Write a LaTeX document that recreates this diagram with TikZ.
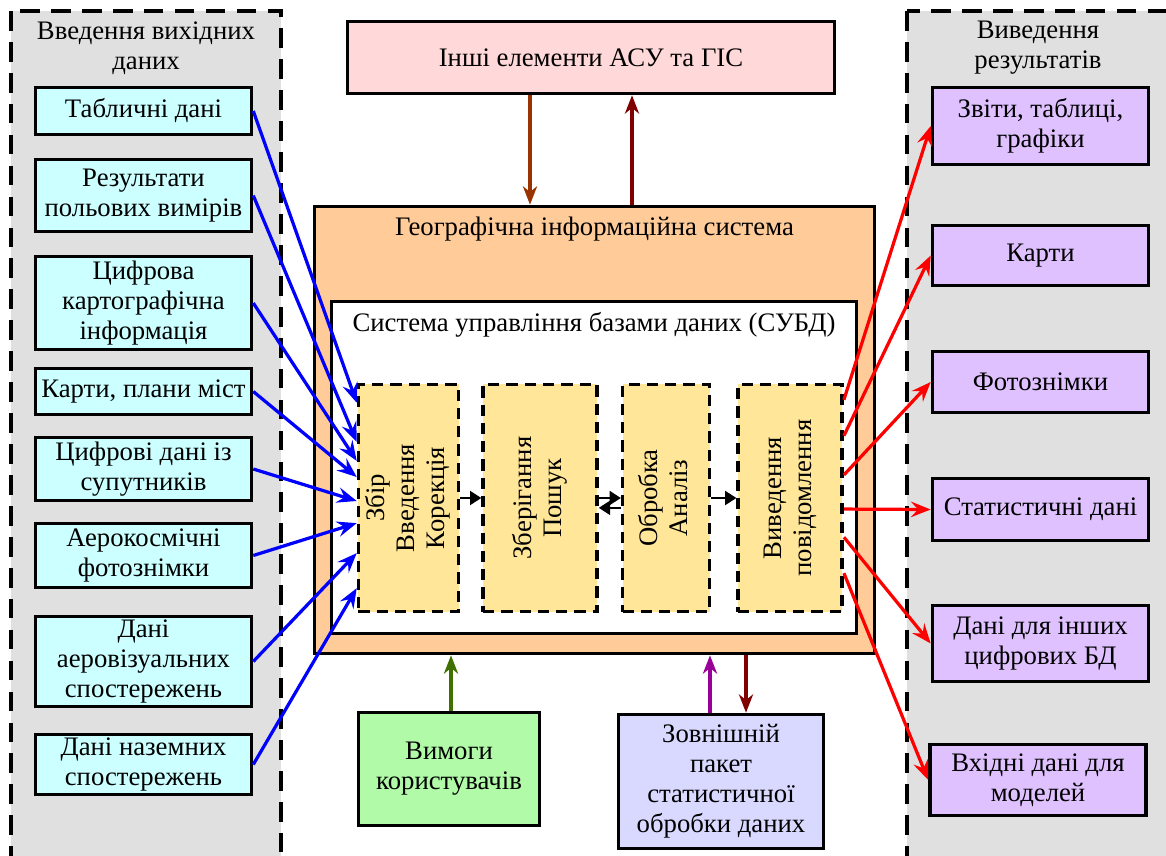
\documentclass[tikz,border=0pt]{standalone}
\usepackage{fontspec}
\setmainfont{Liberation Serif}
\usepackage{graphicx}
\usetikzlibrary{positioning, calc, arrows.meta}

\definecolor{panelgray}{RGB}{224,224,224}
\definecolor{incyan}{RGB}{204,255,255}
\definecolor{outviolet}{RGB}{223,193,255}
\definecolor{toppink}{RGB}{255,217,217}
\definecolor{gisorange}{RGB}{255,204,153}
\definecolor{stageyellow}{RGB}{255,230,153}
\definecolor{reqgreen}{RGB}{176,250,168}
\definecolor{pkglav}{RGB}{217,217,255}
\definecolor{arrbrown}{RGB}{153,51,0}
\definecolor{arrdarkred}{RGB}{128,0,0}
\definecolor{arrgreen}{RGB}{64,112,0}
\definecolor{arrpurple}{RGB}{153,0,153}

\begin{document}
\begin{tikzpicture}[x=0.025cm, y=-0.025cm, font=\fontsize{19}{21.3}\selectfont]
    \tikzstyle{panel} = [draw, fill=panelgray, line width=2.8pt, dash pattern=on 14pt off 8pt];
    \tikzstyle{plainbox} = [draw, line width=2.5pt, align=center, inner sep=2pt];
    \tikzstyle{inbox} = [plainbox, fill=incyan, minimum width=5.4cm];
    \tikzstyle{outbox} = [plainbox, fill=outviolet, minimum width=5.4cm];
    \tikzstyle{stagebox} = [draw, fill=stageyellow, line width=2.5pt, dash pattern=on 8pt off 5pt, minimum height=5.675cm, inner sep=0pt];
    \tikzstyle{inarrow} = [draw=blue, line width=2.3pt, -{Stealth[length=14pt, width=11pt, inset=5pt]}];
    \tikzstyle{outarrow} = [draw=red, line width=2.3pt, -{Stealth[length=14pt, width=11pt, inset=5pt]}];
    \tikzstyle{vertarrow} = [line width=2.3pt, -{Stealth[length=13pt, width=10pt, inset=4pt]}];
    \tikzstyle{steparrow} = [line width=1.3pt, -{Triangle[length=8pt, width=10pt]}];

    \useasboundingbox (0,0) rectangle (1166,856);

    \draw[panel] (11,11) rectangle (281,900);
    \draw[panel] (907,11) rectangle (1200,900);

    \node[align=center] at (146,48) (inT) {Введення вихідних\\даних};
    \node[align=center] at (1038,48) (outT) {Виведення\\результатів};

    \node[inbox, minimum height=1.175cm] at (143.5,111) (L1) {Табличні дані};
    \node[inbox, minimum height=1.8cm] at (143.5,195.5) (L2) {Результати\\польових вимірів};
    \node[inbox, minimum height=2.325cm] at (143.5,303) (L3) {Цифрова\\картографічна\\інформація};
    \node[inbox, minimum height=1.15cm] at (143.5,391.5) (L4) {Карти, плани міст};
    \node[inbox, minimum height=1.575cm] at (143.5,469) (L5) {Цифрові дані із\\супутників};
    \node[inbox, minimum height=1.6cm] at (143.5,555.5) (L6) {Аерокосмічні\\фотознімки};
    \node[inbox, minimum height=2.25cm] at (143.5,661.5) (L7) {Дані\\аеровізуальних\\спостережень};
    \node[inbox, minimum height=1.5cm] at (143.5,764.5) (L8) {Дані наземних\\спостережень};

    \node[outbox, minimum height=1.925cm] at (1040.5,126) (R1) {Звіти, таблиці,\\графіки};
    \node[outbox, minimum height=1.5cm] at (1040.5,255.5) (R2) {Карти};
    \node[outbox, minimum height=1.525cm] at (1040.5,382) (R3) {Фотознімки};
    \node[outbox, minimum height=1.55cm] at (1040.5,509.5) (R4) {Статистичні дані};
    \node[outbox, minimum height=1.9cm] at (1040.5,643.5) (R5) {Дані для інших\\цифрових БД};
    \node[outbox, minimum height=1.775cm] at (1038,780) (R6) {Вхідні дані для\\моделей};

    \node[plainbox, fill=toppink, minimum width=12.175cm, minimum height=1.8cm] at (591,57.5) (T) {Інші елементи АСУ та ГІС};

    \node[plainbox, fill=gisorange, minimum width=14cm, minimum height=11.175cm,
        label={[anchor=north, yshift=-5pt]north:Географічна інформаційна система}] at (594.5,430) (G) {};
    \node[plainbox, fill=white, minimum width=13.125cm, minimum height=8.3cm,
        label={[anchor=north, yshift=-6pt, inner sep=3pt]north:Система управління базами даних (СУБД)}] at (594,467.5) (D) {};

    \node[stagebox, minimum width=2.5cm] at (408.5,498) (Y1) {\rotatebox{90}{\begin{tabular}{c}Збір\\Введення\\Корекція\end{tabular}}};
    \node[stagebox, minimum width=2.85cm, right=0.525cm of Y1] (Y2) {\rotatebox{90}{\begin{tabular}{c}Зберігання\\Пошук\end{tabular}}};
    \node[stagebox, minimum width=2.175cm, right=0.55cm of Y2] (Y3) {\rotatebox{90}{\begin{tabular}{c}Обробка\\Аналіз\end{tabular}}};
    \node[stagebox, minimum width=2.6cm, right=0.625cm of Y3] (Y4) {\rotatebox{90}{\begin{tabular}{c}Виведення\\повідомлення\end{tabular}}};

    \node[plainbox, fill=reqgreen, minimum width=4.525cm, minimum height=2.825cm] at (449,769) (U) {Вимоги\\користувачів};
    \node[plainbox, fill=pkglav, minimum width=5.125cm, minimum height=3.35cm] at (721,781.5) (P) {Зовнішній\\пакет\\статистичної\\обробки даних};

    \coordinate (a1) at (530,0);
    \coordinate (a2) at (632,0);
    \coordinate (a3) at (451,0);
    \coordinate (a4) at (710,0);
    \coordinate (a5) at (746,0);

    \draw[vertarrow, arrbrown] (T.south -| a1) -- (G.north -| a1);
    \draw[vertarrow, arrdarkred] (G.north -| a2) -- (T.south -| a2);
    \draw[vertarrow, arrgreen] (U.north -| a3) -- (G.south -| a3);
    \draw[vertarrow, arrpurple] (P.north -| a4) -- (G.south -| a4);
    \draw[vertarrow, arrdarkred] (G.south -| a5) -- (P.north -| a5);

    \foreach \i/\t in {1/0.087, 2/0.257, 3/0.339, 4/0.409, 5/0.513, 6/0.609, 7/0.739, 8/0.891}
        \draw[inarrow] (L\i.east) -- ($(Y1.north west)!\t!(Y1.south west)$);

    \foreach \i/\t in {1/0.074, 2/0.23, 3/0.40, 4/0.548, 5/0.67, 6/0.826}
        \draw[outarrow] ($(Y4.north east)!\t!(Y4.south east)$) -- (R\i.west);

    \draw[steparrow] (Y1.east) -- (Y2.west);
    \draw[steparrow] (Y2.east) -- (Y3.west);
    \draw[steparrow] ([yshift=-7pt]Y3.west) -- ([yshift=-7pt]Y2.east);
    \draw[steparrow] (Y3.east) -- (Y4.west);
\end{tikzpicture}
\end{document}
